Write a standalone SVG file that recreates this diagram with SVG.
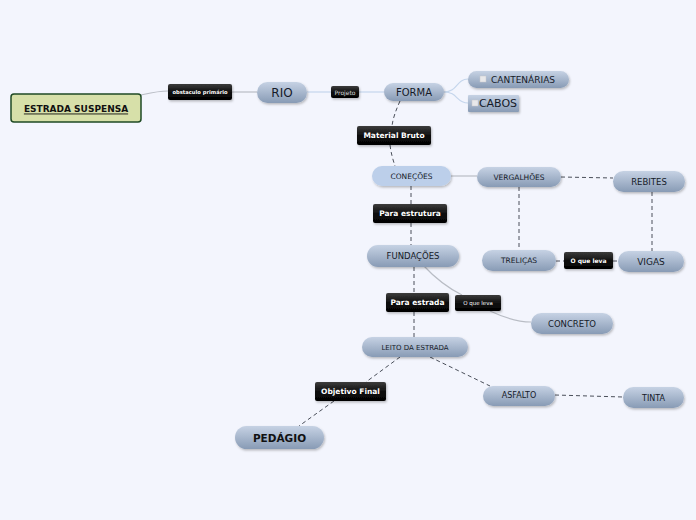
<svg xmlns="http://www.w3.org/2000/svg" width="696" height="520" viewBox="0 0 696 520">
<defs>
<linearGradient id="pill" x1="0" y1="0" x2="0" y2="1">
<stop offset="0" stop-color="#c6d2e4"/>
<stop offset="1" stop-color="#889bb5"/>
</linearGradient>
<linearGradient id="blk" x1="0" y1="0" x2="0" y2="1">
<stop offset="0" stop-color="#3c3c3c"/>
<stop offset="0.5" stop-color="#111"/>
<stop offset="1" stop-color="#000"/>
</linearGradient>
<filter id="sh" x="-10%" y="-20%" width="130%" height="160%">
<feDropShadow dx="1" dy="1.5" stdDeviation="1" flood-color="#000" flood-opacity="0.25"/>
</filter>
</defs>
<style>
text{font-family:"DejaVu Sans","Liberation Sans",sans-serif;text-anchor:middle;dominant-baseline:central;}
.p{fill:url(#pill);filter:url(#sh);}
.b{fill:url(#blk);filter:url(#sh);}
.t{fill:#151a28;}
.w{fill:#fff;font-weight:bold;}
.s{fill:none;stroke:#b9bdc5;stroke-width:1.2;}
.sb{fill:none;stroke:#c5d6ec;stroke-width:1.2;}
.d{fill:none;stroke:#4a4f5a;stroke-width:1;stroke-dasharray:4 3;}
</style>
<rect width="696" height="520" fill="#f3f5fd"/>
<g id="connectors">
<path class="s" d="M141,95 C150,93 158,91 168,91"/>
<path class="s" d="M232,92 L257,92"/>
<path class="sb" d="M307,92 L331,92"/>
<path class="sb" d="M359,92 L384,92"/>
<path class="sb" d="M444,92 C458,92 456,79 468,79"/>
<path class="sb" d="M444,92 C458,92 456,103 468,103"/>
<path class="d" d="M400,101 C396,110 393,118 392,126"/>
<path class="d" d="M390,145 C391,153 393,160 395,166"/>
<path class="s" d="M451,176 L477,176"/>
<path class="d" d="M561,177 L613,178"/>
<path class="d" d="M519,187 L519,250"/>
<path class="d" d="M652,192 L652,251"/>
<path class="d" d="M556,261 L564,261"/>
<path class="d" d="M613,261 L618,261"/>
<path class="d" d="M411,186 L411,204"/>
<path class="d" d="M411,223 L411,245"/>
<path class="d" d="M414,267 L414,293"/>
<path class="d" d="M414,312 L414,337"/>
<path class="s" d="M423,265 C435,278 448,288 462,295"/>
<path class="s" d="M490,311 C505,318 518,322 531,322"/>
<path class="d" d="M430,357 L490,386"/>
<path class="d" d="M400,357 L366,382"/>
<path class="d" d="M334,401 L299,426"/>
<path class="d" d="M555,395 L623,397"/>
</g>
<g id="estrada-suspensa">
<rect x="11" y="94" width="130" height="28" rx="3" fill="#d7e0a9" stroke="#1f4a24" stroke-width="1.5"/>
<text x="76" y="108.5" font-size="9" font-weight="bold" fill="#111" text-decoration="underline">ESTRADA SUSPENSA</text>
</g>
<g id="obstaculo">
<rect class="b" x="168" y="84" width="64" height="16" rx="2"/>
<text class="w" x="200" y="92" font-size="5.2">obstaculo primário</text>
</g>
<g id="rio">
<rect class="p" x="257" y="82" width="50" height="21" rx="10.5"/>
<text class="t" x="282" y="92.5" font-size="12">RIO</text>
</g>
<g id="projeto">
<rect class="b" x="331" y="86" width="28" height="12" rx="2"/>
<text x="345" y="92" font-size="6" fill="#ddd">Projeto</text>
</g>
<g id="forma">
<rect class="p" x="384" y="83" width="60" height="18" rx="9"/>
<text class="t" x="414" y="92" font-size="10">FORMA</text>
</g>
<g id="cantenarias">
<rect class="p" x="468" y="71" width="101" height="17" rx="8.5"/>
<rect x="480" y="76" width="6" height="6" fill="#e8e8ea" stroke="#c8c8cc" stroke-width="0.5"/>
<text class="t" x="523" y="79.5" font-size="9">CANTENÁRIAS</text>
</g>
<g id="cabos">
<rect class="p" x="468" y="95" width="51" height="17" rx="1"/>
<rect x="472" y="100" width="6" height="6" fill="#e8e8ea" stroke="#c8c8cc" stroke-width="0.5"/>
<text class="t" x="498" y="103.5" font-size="11">CABOS</text>
</g>
<g id="material-bruto">
<rect class="b" x="357" y="126" width="74" height="19" rx="2"/>
<text class="w" x="394" y="135.5" font-size="7.5">Material Bruto</text>
</g>
<g id="conecoes">
<rect x="372" y="166" width="79" height="20" rx="10" fill="#bccfea" filter="url(#sh)"/>
<text class="t" x="411.5" y="176" font-size="7.5">CONEÇÕES</text>
</g>
<g id="vergalhoes">
<rect class="p" x="477" y="167" width="84" height="20" rx="10"/>
<text class="t" x="519" y="177" font-size="7.5">VERGALHÕES</text>
</g>
<g id="rebites">
<rect class="p" x="613" y="171" width="72" height="21" rx="10.5"/>
<text class="t" x="649" y="181.5" font-size="8.5">REBITES</text>
</g>
<g id="para-estrutura">
<rect class="b" x="373" y="204" width="74" height="19" rx="2"/>
<text class="w" x="410" y="213.5" font-size="7.5">Para estrutura</text>
</g>
<g id="fundacoes">
<rect class="p" x="367" y="245" width="92" height="22" rx="11"/>
<text class="t" x="413" y="256" font-size="8.5">FUNDAÇÕES</text>
</g>
<g id="trelicas">
<rect class="p" x="482" y="250" width="74" height="21" rx="10.5"/>
<text class="t" x="519" y="260.5" font-size="7.5">TRELIÇAS</text>
</g>
<g id="o-que-leva-1">
<rect class="b" x="564" y="252" width="49" height="17" rx="2"/>
<text class="w" x="588.5" y="260.5" font-size="6">O que leva</text>
</g>
<g id="vigas">
<rect class="p" x="618" y="251" width="66" height="21" rx="10.5"/>
<text class="t" x="651" y="262" font-size="9">VIGAS</text>
</g>
<g id="para-estrada">
<rect class="b" x="386" y="293" width="63" height="19" rx="2"/>
<text class="w" x="417.5" y="302.5" font-size="7.5">Para estrada</text>
</g>
<g id="o-que-leva-2">
<rect class="b" x="455" y="295" width="46" height="16" rx="2"/>
<text x="478" y="303" font-size="5.5" fill="#fff">O que leva</text>
</g>
<g id="concreto">
<rect class="p" x="531" y="313" width="82" height="21" rx="10.5"/>
<text class="t" x="572" y="323.5" font-size="8.5">CONCRETO</text>
</g>
<g id="leito">
<rect class="p" x="362" y="337" width="106" height="20" rx="10"/>
<text class="t" x="415" y="347.5" font-size="7">LEITO DA ESTRADA</text>
</g>
<g id="objetivo-final">
<rect class="b" x="315" y="382" width="71" height="19" rx="2"/>
<text class="w" x="350.5" y="391.5" font-size="7.5">Objetivo Final</text>
</g>
<g id="asfalto">
<rect class="p" x="483" y="386" width="72" height="20" rx="10"/>
<text class="t" x="519" y="395.5" font-size="8">ASFALTO</text>
</g>
<g id="tinta">
<rect class="p" x="623" y="387" width="61" height="21" rx="10.5"/>
<text class="t" x="653.5" y="398" font-size="8">TINTA</text>
</g>
<g id="pedagio">
<rect class="p" x="235" y="426" width="89" height="23" rx="11.5"/>
<text x="279.5" y="437.5" font-size="10.5" font-weight="bold" fill="#111">PEDÁGIO</text>
</g>
</svg>
